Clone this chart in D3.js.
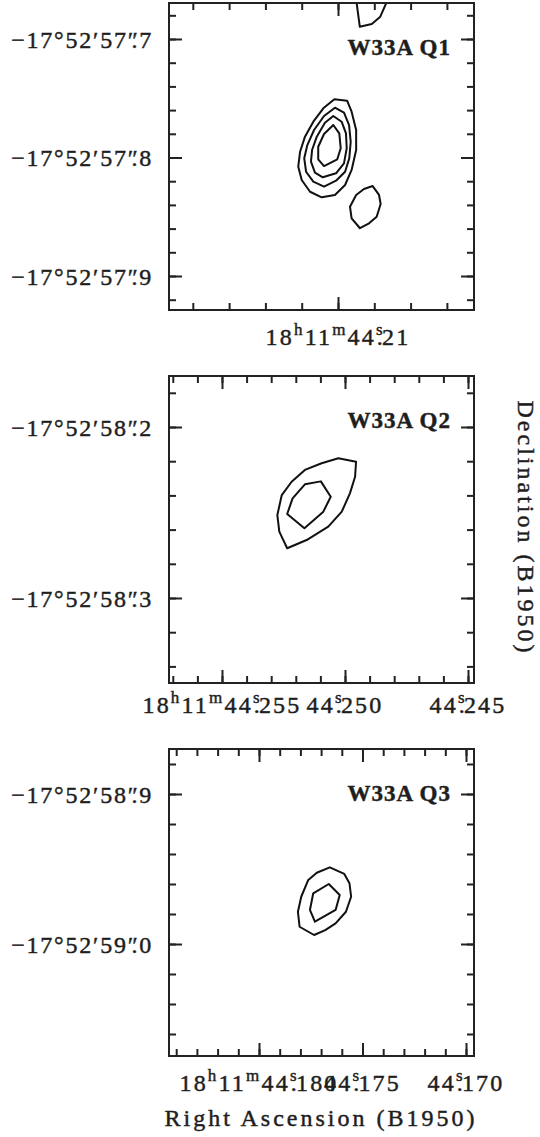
<!DOCTYPE html>
<html>
<head>
<meta charset="utf-8">
<style>
  body { margin: 0; background: #fff; }
  text { fill: #1e1e1e; stroke: #1e1e1e; stroke-width: 0.45px; }
</style>
</head>
<body>
<svg width="540" height="1137"></svg>
<script src="https://cdn.jsdelivr.net/npm/d3@7/dist/d3.min.js"></script>
<script>

// contour vertices: [RA seconds after 18h11m, Dec arcsec after -17d52']
var q1Level1 = [[44.2102,57.7509],[44.2095,57.7521],[44.20925,57.7613],[44.2090,57.7768],[44.2090,57.7937],[44.20925,57.8105],[44.20961,57.8232],[44.21017,57.8316],[44.2109,57.8336],[44.21154,57.8289],[44.2120,57.8190],[44.21219,57.8078],[44.21209,57.7951],[44.21182,57.7824],[44.21136,57.7698],[44.21081,57.7585]];
var q1Level2 = [[44.21017,57.7580],[44.20967,57.7622],[44.20939,57.7726],[44.2093,57.7867],[44.20938,57.8007],[44.20961,57.8120],[44.21011,57.8196],[44.21077,57.8246],[44.21136,57.8204],[44.21176,57.8120],[44.21186,57.8007],[44.21169,57.7895],[44.21132,57.7768],[44.21077,57.7650]];
var q1Level3 = [[44.21026,57.7650],[44.2098,57.7698],[44.20956,57.7796],[44.20952,57.7922],[44.20967,57.8049],[44.21011,57.8133],[44.21084,57.8167],[44.21127,57.8128],[44.21149,57.8035],[44.21143,57.7937],[44.21117,57.7824],[44.21072,57.7706]];
var q1Level4 = [[44.21026,57.7726],[44.20993,57.7796],[44.20985,57.7922],[44.21004,57.8015],[44.21077,57.8072],[44.21109,57.8015],[44.21109,57.7909],[44.21077,57.7802]];
var q1Blob = [[44.20809,57.8241],[44.20774,57.8316],[44.20765,57.8392],[44.20787,57.8500],[44.20829,57.8555],[44.20879,57.8597],[44.20925,57.8513],[44.20934,57.8415],[44.2090,57.8316],[44.20857,57.8266]];
var q1TopArc = [[44.20901,57.6654],[44.2088,57.6896],[44.20814,57.6873],[44.20767,57.6812],[44.20722,57.6654]];

var q2Outer = [[44.25027,58.2183],[44.24955,58.2203],[44.24959,58.2291],[44.2498,58.2388],[44.25013,58.2495],[44.25068,58.2583],[44.25156,58.2661],[44.25235,58.2709],[44.25267,58.2612],[44.25275,58.2515],[44.25257,58.2398],[44.25217,58.2320],[44.25163,58.2251],[44.25095,58.2212]];
var q2Inner = [[44.25163,58.2335],[44.25098,58.2318],[44.25058,58.2408],[44.25088,58.2495],[44.25165,58.2592],[44.25235,58.2509],[44.25213,58.2417]];

var q3Outer = [[44.17658,58.9489],[44.17588,58.9533],[44.17563,58.9595],[44.17555,58.9685],[44.1758,58.9785],[44.1763,58.9862],[44.1768,58.9907],[44.17734,58.9940],[44.17804,58.9885],[44.17812,58.9785],[44.17796,58.9685],[44.17762,58.9573],[44.17721,58.9525]];
var q3Inner = [[44.17663,58.9600],[44.1761,58.9673],[44.1763,58.9773],[44.1773,58.9851],[44.17754,58.9773],[44.17738,58.9662]];

// axis ranges and labelled ticks
var q1Ra = [44.219312, 44.202507], q1Dec = [57.66962, 57.92869];
var q2Ra = [44.257154, 44.244756], q2Dec = [58.170175, 58.349708];
var q3Ra = [44.184348, 44.169614], q3Dec = [58.87, 59.074667];
var q1RaLabels = ["44.21"], q2RaLabels = ["44.255", "44.250", "44.245"], q3RaLabels = ["44.180", "44.175", "44.170"];
var q1DecLabels = [57.7, 57.8, 57.9], q2DecLabels = [58.2, 58.3], q3DecLabels = [58.9, 59.0];

var panels = [
  {name: "W33A Q1", ra: q1Ra, dec: q1Dec, raStep: 0.002, raLabels: q1RaLabels, decLabels: q1DecLabels,
   closed: [q1Level1, q1Level2, q1Level3, q1Level4, q1Blob], open: [q1TopArc], top: 3, labelGap: 35},
  {name: "W33A Q2", ra: q2Ra, dec: q2Dec, raStep: 0.001, raLabels: q2RaLabels, decLabels: q2DecLabels,
   closed: [q2Outer, q2Inner], open: [], top: 376, labelGap: 30},
  {name: "W33A Q3", ra: q3Ra, dec: q3Dec, raStep: 0.001, raLabels: q3RaLabels, decLabels: q3DecLabels,
   closed: [q3Outer, q3Inner], open: [], top: 749, labelGap: 35}
];

var svg = d3.select("svg"),
    left = 169,
    width = 305,
    height = 307,
    decStep = 0.02,
    ink = "#222";

function steps(domain, step) {
  var lo = Math.min(domain[0], domain[1]), hi = Math.max(domain[0], domain[1]);
  return d3.range(Math.ceil(lo / step - 1e-6), Math.floor(hi / step + 1e-6) + 1)
      .map(function(i) { return +(i * step).toFixed(4); });
}

function tickAxis(axis, values, size) {
  return function(sel) {
    sel.call(axis.tickValues(values).tickSize(-size).tickSizeOuter(0).tickFormat(""));
    sel.select(".domain").remove();
    sel.selectAll(".tick line").attr("stroke", ink).attr("stroke-width", 2);
  };
}

panels.forEach(function(p, i) {
  var g = svg.append("g").attr("transform", "translate(" + left + "," + p.top + ")");

  var x = d3.scaleLinear().domain(p.ra).range([0, width]),
      y = d3.scaleLinear().domain(p.dec).range([0, height]);

  var line = d3.line()
      .x(function(d) { return x(d[0]); })
      .y(function(d) { return y(d[1]); });

  g.append("clipPath").attr("id", "clip" + i)
    .append("rect").attr("width", width).attr("height", height);

  var c = g.append("g").attr("clip-path", "url(#clip" + i + ")");

  c.selectAll("path.closed")
    .data(p.closed)
    .enter().append("path")
      .attr("class", "closed")
      .attr("fill", "none")
      .attr("stroke", "#111")
      .attr("stroke-width", 2)
      .attr("stroke-linejoin", "round")
      .attr("d", line.curve(d3.curveLinearClosed));

  c.selectAll("path.open")
    .data(p.open)
    .enter().append("path")
      .attr("class", "open")
      .attr("fill", "none")
      .attr("stroke", "#111")
      .attr("stroke-width", 2)
      .attr("stroke-linejoin", "round")
      .attr("d", d3.line().x(function(d) { return x(d[0]); }).y(function(d) { return y(d[1]); }));

  var raMinor = steps(p.ra, p.raStep),
      raMajor = steps(p.ra, p.raStep * 5),
      decMinor = steps(p.dec, decStep),
      decMajor = steps(p.dec, 0.1);

  g.append("g").attr("transform", "translate(0," + height + ")").call(tickAxis(d3.axisBottom(x), raMinor, 7));
  g.append("g").attr("transform", "translate(0," + height + ")").call(tickAxis(d3.axisBottom(x), raMajor, 13));
  g.append("g").call(tickAxis(d3.axisTop(x), raMinor, 7));
  g.append("g").call(tickAxis(d3.axisTop(x), raMajor, 13));
  g.append("g").call(tickAxis(d3.axisLeft(y), decMinor, 7));
  g.append("g").call(tickAxis(d3.axisLeft(y), decMajor, 13));
  g.append("g").attr("transform", "translate(" + width + ",0)").call(tickAxis(d3.axisRight(y), decMinor, 7));
  g.append("g").attr("transform", "translate(" + width + ",0)").call(tickAxis(d3.axisRight(y), decMajor, 13));

  g.append("rect")
      .attr("width", width)
      .attr("height", height)
      .attr("fill", "none")
      .attr("stroke", ink)
      .attr("stroke-width", 2);

  // declination labels
  p.decLabels.forEach(function(v) {
    var t = g.append("text")
        .attr("x", -16)
        .attr("y", y(v))
        .attr("dy", "0.36em")
        .attr("text-anchor", "end")
        .style("font-family", "'Liberation Serif', serif")
        .style("font-size", "24px")
        .style("letter-spacing", "1.8px");
    t.append("tspan").text("\u221217\u00b052\u2032" + Math.floor(v + 1e-6));
    t.append("tspan").text("\u2033");
    t.append("tspan").attr("dx", "-0.34em").text(".");
    t.append("tspan").text(Math.round((v - Math.floor(v + 1e-6)) * 10));
  });

  // right ascension labels
  p.raLabels.forEach(function(s, k) {
    var parts = s.split("."),
        t = g.append("text")
        .attr("x", x(+s))
        .attr("y", height + p.labelGap)
        .attr("text-anchor", "middle")
        .style("font-family", "'Liberation Serif', serif")
        .style("font-size", "24px")
        .style("letter-spacing", "2.2px");
    if (k === 0) {
      t.append("tspan").text("18");
      t.append("tspan").attr("dy", -10).style("font-size", "17px").text("h");
      t.append("tspan").attr("dy", 10).text("11");
      t.append("tspan").attr("dy", -10).style("font-size", "17px").text("m");
      t.append("tspan").attr("dy", 10).text(parts[0]);
    } else {
      t.append("tspan").text(parts[0]);
    }
    t.append("tspan").attr("dy", -10).style("font-size", "17px").text("s");
    t.append("tspan").attr("dy", 10).attr("dx", -8).text(".");
    t.append("tspan").attr("dx", -3).text(parts[1]);
  });

  g.append("text")
      .attr("x", 282)
      .attr("y", 52)
      .attr("text-anchor", "end")
      .style("font-family", "'Liberation Serif', serif")
      .style("font-weight", "bold")
      .style("font-size", "23px")
      .style("letter-spacing", "1px")
      .text(p.name);
});

svg.append("text")
    .attr("transform", "translate(518,528) rotate(90)")
    .attr("text-anchor", "middle")
    .style("font-family", "'Liberation Serif', serif")
    .style("font-size", "24px")
    .style("letter-spacing", "3px")
    .text("Declination (B1950)");

svg.append("text")
    .attr("x", 321)
    .attr("y", 1126)
    .attr("text-anchor", "middle")
    .style("font-family", "'Liberation Serif', serif")
    .style("font-size", "24px")
    .style("letter-spacing", "3px")
    .text("Right Ascension (B1950)");

</script>
</body>
</html>
